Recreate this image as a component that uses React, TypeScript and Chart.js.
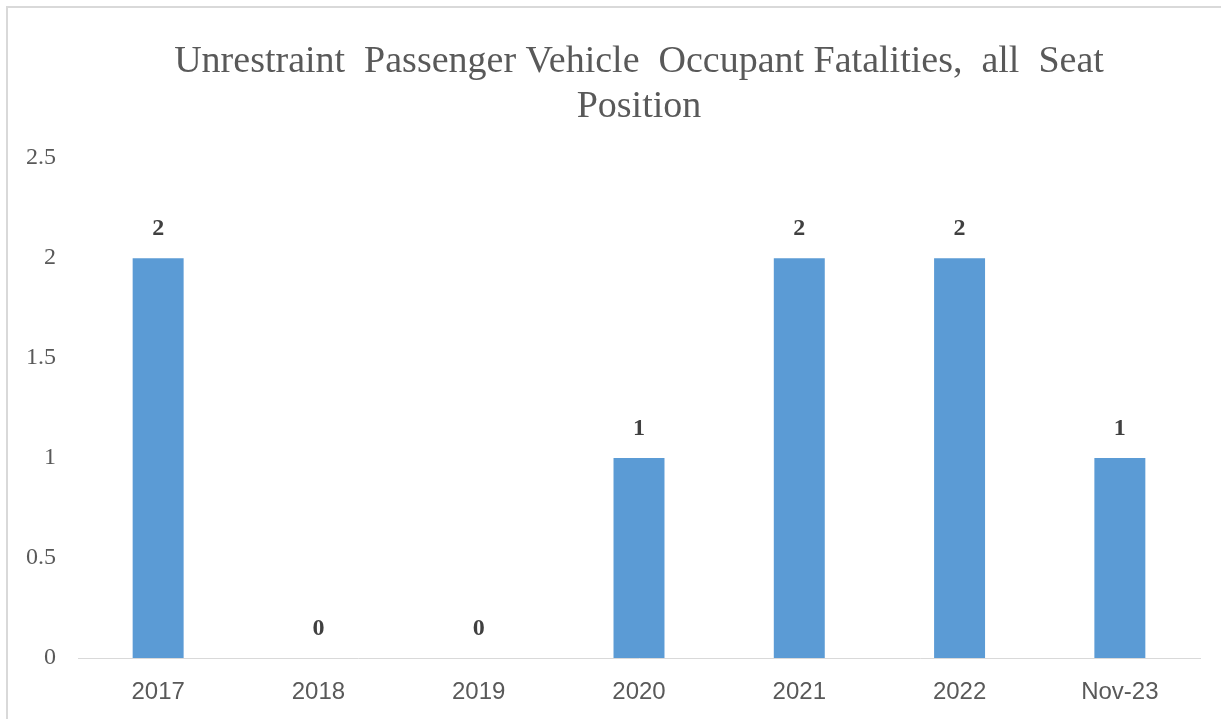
import React, { useEffect, useRef } from "react";
import { Chart, registerables } from "chart.js";

Chart.register(...registerables);

const categories: string[] = ["2017", "2018", "2019", "2020", "2021", "2022", "Nov-23"];
const fatalities: number[] = [2, 0, 0, 1, 2, 2, 1];
const titleLines: string[] = [
  "Unrestraint  Passenger Vehicle  Occupant Fatalities,  all  Seat",
  "Position",
];
const yMin = 0;
const yMax = 2.5;
const yStep = 0.5;

const valueLabelPlugin = {
  id: "valueLabels",
  afterDatasetsDraw(chart: any) {
    const { ctx } = chart;
    const meta = chart.getDatasetMeta(0);
    const data = chart.data.datasets[0].data as number[];
    ctx.save();
    ctx.font = "bold 24px 'Liberation Serif', 'Times New Roman', serif";
    ctx.fillStyle = "#404040";
    ctx.textAlign = "center";
    ctx.textBaseline = "middle";
    meta.data.forEach((bar: any, i: number) => {
      ctx.fillText(String(data[i]), bar.x, bar.y - 29);
    });
    ctx.restore();
  },
};

export default function App() {
  const canvasRef = useRef<HTMLCanvasElement | null>(null);

  useEffect(() => {
    if (!canvasRef.current) return;
    const chart = new Chart(canvasRef.current, {
      type: "bar",
      data: {
        labels: categories,
        datasets: [
          {
            label: "Fatalities",
            data: fatalities,
            backgroundColor: "#5b9bd5",
            borderWidth: 0,
            barPercentage: 0.318,
            categoryPercentage: 1,
          },
        ],
      },
      options: {
        responsive: false,
        animation: false,
        layout: { padding: { left: 0, right: 21, top: 0, bottom: 0 } },
        plugins: {
          legend: { display: false },
          tooltip: { enabled: false },
          title: {
            display: true,
            text: titleLines,
            fullSize: false,
            color: "#595959",
            font: { family: "'Liberation Serif', 'Times New Roman', serif", size: 38, weight: "normal", lineHeight: 1.2 },
            padding: { top: 39, bottom: 28 },
          },
        },
        scales: {
          x: {
            grid: { display: false, drawTicks: false },
            border: { display: true, color: "#d9d9d9", width: 1 },
            ticks: {
              color: "#595959",
              font: { family: "'Liberation Sans', Arial, sans-serif", size: 24 },
              padding: 20,
              maxRotation: 0,
              autoSkip: false,
            },
            afterFit: (s: any) => {
              s.height = 61;
            },
          },
          y: {
            min: yMin,
            max: yMax,
            grid: { display: false, drawTicks: false },
            border: { display: false },
            ticks: {
              stepSize: yStep,
              color: "#595959",
              font: { family: "'Liberation Serif', 'Times New Roman', serif", size: 24 },
              padding: 22,
              callback: (value: any) => String(Number(value)),
            },
            afterFit: (s: any) => {
              s.width = 78;
            },
          },
        },
      },
      plugins: [valueLabelPlugin],
    });
    return () => chart.destroy();
  }, []);

  return (
    <div style={{ position: "absolute", left: 0, top: 0, width: 1221, height: 719, overflow: "hidden", background: "#fff" }}>
      <canvas ref={canvasRef} width={1221} height={719} style={{ display: "block", position: "absolute", left: 0, top: 0 }} />
      <div
        style={{
          position: "absolute",
          left: 6,
          top: 6,
          width: 1215,
          height: 713,
          borderTop: "2px solid #d9d9d9",
          borderLeft: "2px solid #d9d9d9",
          boxSizing: "border-box",
          pointerEvents: "none",
        }}
      />
    </div>
  );
}
